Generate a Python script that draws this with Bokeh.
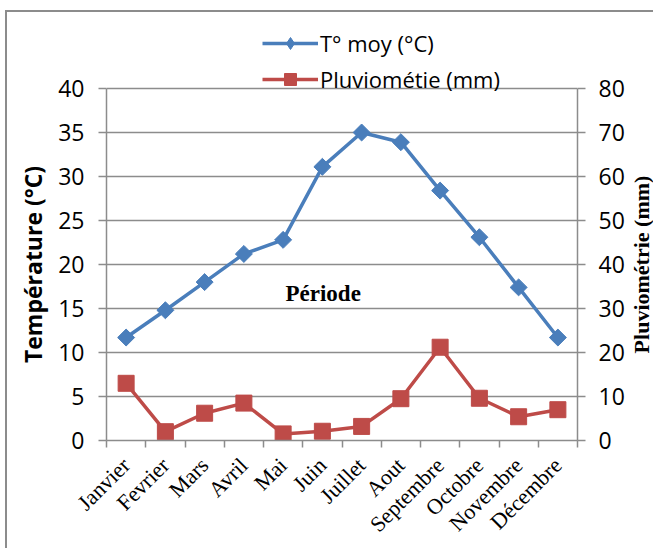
from math import pi
from bokeh.plotting import figure
from bokeh.layouts import row
from bokeh.models import (Range1d, LinearAxis, FixedTicker, Legend,
                          LegendItem, Label)
from bokeh.embed import file_html
from bokeh.resources import INLINE

# ---------------- data ----------------
months = ["Janvier", "Fevrier", "Mars", "Avril", "Mai", "Juin", "Juillet",
          "Aout", "Septembre", "Octobre", "Novembre", "Décembre"]
temp = [11.7, 14.8, 18.0, 21.2, 22.8, 31.1, 35.0, 33.9, 28.4, 23.1, 17.4, 11.7]
pluie = [13.0, 2.0, 6.2, 8.5, 1.5, 2.1, 3.2, 9.5, 21.2, 9.6, 5.4, 7.0]
temp_ticks = [0, 5, 10, 15, 20, 25, 30, 35, 40]
pluie_ticks = [0, 10, 20, 30, 40, 50, 60, 70, 80]
temp_label = "T° moy (°C)"
pluie_label = "Pluviométie (mm)"
left_title = "Température (°C)"
right_title = "Pluviométrie (mm)"
center_text = "Période"

BLUE = "#4a7ebb"
RED = "#be4b48"
GRAY = "#8c8c8c"
SANS = "Open Sans"
SERIF = "Liberation Serif"

n = len(months)
xc = [i + 0.5 for i in range(n)]          # category centres on the numeric scale
bounds = list(range(n + 1))               # category boundaries (tick marks)

# the frame reaches up into the legend area; axes are bounded to 0..40 / 0..80
TOP_PAD = 414 / 352
t_max = temp_ticks[-1] * TOP_PAD
p_max = pluie_ticks[-1] * TOP_PAD
y_range = Range1d(0, t_max)
y_mid = (temp_ticks[0] + temp_ticks[-1]) / 2

H, MB_TOP, MB_BOTTOM = 536, 14, 108


def bare(fig):
    fig.xgrid.visible = False
    fig.ygrid.visible = False
    fig.outline_line_color = None
    fig.background_fill_color = "white"
    fig.border_fill_color = "white"


# ---------------- main chart ----------------
p = figure(width=574, height=H,
           x_range=Range1d(0, n), y_range=y_range,
           output_backend="svg", toolbar_location=None,
           min_border_left=53, min_border_right=49,
           min_border_top=MB_TOP, min_border_bottom=MB_BOTTOM)
p.outline_line_color = None
p.background_fill_color = "white"
p.border_fill_color = "white"
p.extra_y_ranges = {"pluvio": Range1d(0, p_max)}

p.xgrid.visible = False
p.ygrid.ticker = FixedTicker(ticks=temp_ticks)
p.ygrid.grid_line_color = GRAY
p.ygrid.grid_line_width = 1.5

ya = p.yaxis[0]
ya.ticker = FixedTicker(ticks=temp_ticks)
ya.bounds = (temp_ticks[0], temp_ticks[-1])
ya.axis_line_color = GRAY
ya.axis_line_width = 1.5
ya.major_tick_line_color = GRAY
ya.major_tick_line_width = 1.5
ya.major_tick_out = 8
ya.major_tick_in = 0
ya.minor_tick_line_color = None
ya.major_label_standoff = 14
ya.major_label_text_font = SANS
ya.major_label_text_font_size = "23px"
ya.major_label_text_color = "black"

ra = LinearAxis(y_range_name="pluvio", ticker=FixedTicker(ticks=pluie_ticks))
ra.bounds = (pluie_ticks[0], pluie_ticks[-1])
ra.axis_line_color = GRAY
ra.axis_line_width = 1.5
ra.major_tick_line_color = GRAY
ra.major_tick_line_width = 1.5
ra.major_tick_out = 8
ra.major_tick_in = 0
ra.minor_tick_line_color = None
ra.major_label_standoff = 13
ra.major_label_text_font = SANS
ra.major_label_text_font_size = "23px"
ra.major_label_text_color = "black"
p.add_layout(ra, "right")

xa = p.xaxis[0]
xa.ticker = FixedTicker(ticks=xc, minor_ticks=bounds)
xa.major_label_overrides = {x: m for x, m in zip(xc, months)}
xa.axis_line_color = GRAY
xa.axis_line_width = 1.5
xa.major_tick_line_color = None
xa.major_tick_out = 0
xa.major_tick_in = 0
xa.minor_tick_line_color = GRAY
xa.minor_tick_line_width = 1.5
xa.minor_tick_out = 7
xa.minor_tick_in = 0
xa.major_label_orientation = pi / 4
xa.major_label_standoff = 14
xa.major_label_text_font = SERIF
xa.major_label_text_font_size = "22px"
xa.major_label_text_color = "black"

l1 = p.line(x=xc, y=temp, line_color=BLUE, line_width=3.5)
p.scatter(x=xc, y=temp, marker="square", angle=pi / 4, size=12,
          fill_color=BLUE, line_color=BLUE)
d1 = p.scatter(x=xc, y=temp, marker="diamond", size=0,
               fill_color=BLUE, line_color=BLUE)   # legend symbol only
l2 = p.line(x=xc, y=pluie, y_range_name="pluvio", line_color=RED, line_width=3.5)
s2 = p.scatter(x=xc, y=pluie, y_range_name="pluvio", marker="square", size=16,
               fill_color=RED, line_color=RED)

legend = Legend(items=[LegendItem(label=temp_label, renderers=[l1, d1]),
                       LegendItem(label=pluie_label, renderers=[l2, s2])],
                location=(156, 346), orientation="vertical",
                glyph_width=56, glyph_height=30, label_height=30, spacing=6,
                padding=0, margin=0, border_line_color=None,
                background_fill_alpha=0, label_standoff=2,
                label_text_font=SANS, label_text_font_size="22px",
                label_text_color="black")
p.add_layout(legend)

p.add_layout(Label(x=n / 2 - 0.5 + 0.02, y=16.7, text=center_text,
                   text_font=SERIF, text_font_style="bold",
                   text_font_size="23px", text_align="center",
                   text_baseline="middle", text_color="black"))

# ---------------- left title strip ----------------
lt = figure(width=46, height=H, x_range=Range1d(0, 1), y_range=y_range,
            output_backend="svg", toolbar_location=None,
            x_axis_location=None, y_axis_location=None,
            min_border_left=0, min_border_right=0,
            min_border_top=MB_TOP, min_border_bottom=MB_BOTTOM)
bare(lt)
lt.add_layout(Label(x=0.565, y=y_mid, text=left_title, angle=pi / 2,
                    text_font=SANS, text_font_style="bold",
                    text_font_size="23px", text_align="center",
                    text_baseline="middle", text_color="black"))

# ---------------- right title strip ----------------
rt = figure(width=26, height=H, x_range=Range1d(0, 1), y_range=y_range,
            output_backend="svg", toolbar_location=None,
            x_axis_location=None, y_axis_location=None,
            min_border_left=0, min_border_right=0,
            min_border_top=MB_TOP, min_border_bottom=MB_BOTTOM)
bare(rt)
rt.add_layout(Label(x=0.55, y=y_mid, text=right_title, angle=pi / 2,
                    text_font=SERIF, text_font_style="bold",
                    text_font_size="22px", text_align="center",
                    text_baseline="middle", text_color="black"))

layout = row(lt, p, rt, spacing=0)
layout.margin = (10, 0, 0, 5)
layout.styles = {"border-left": "2px solid #8c8c8c", "border-top": "2px solid #8c8c8c",
                 "background": "white"}

open("out.html", "w").write(file_html(layout, INLINE))
